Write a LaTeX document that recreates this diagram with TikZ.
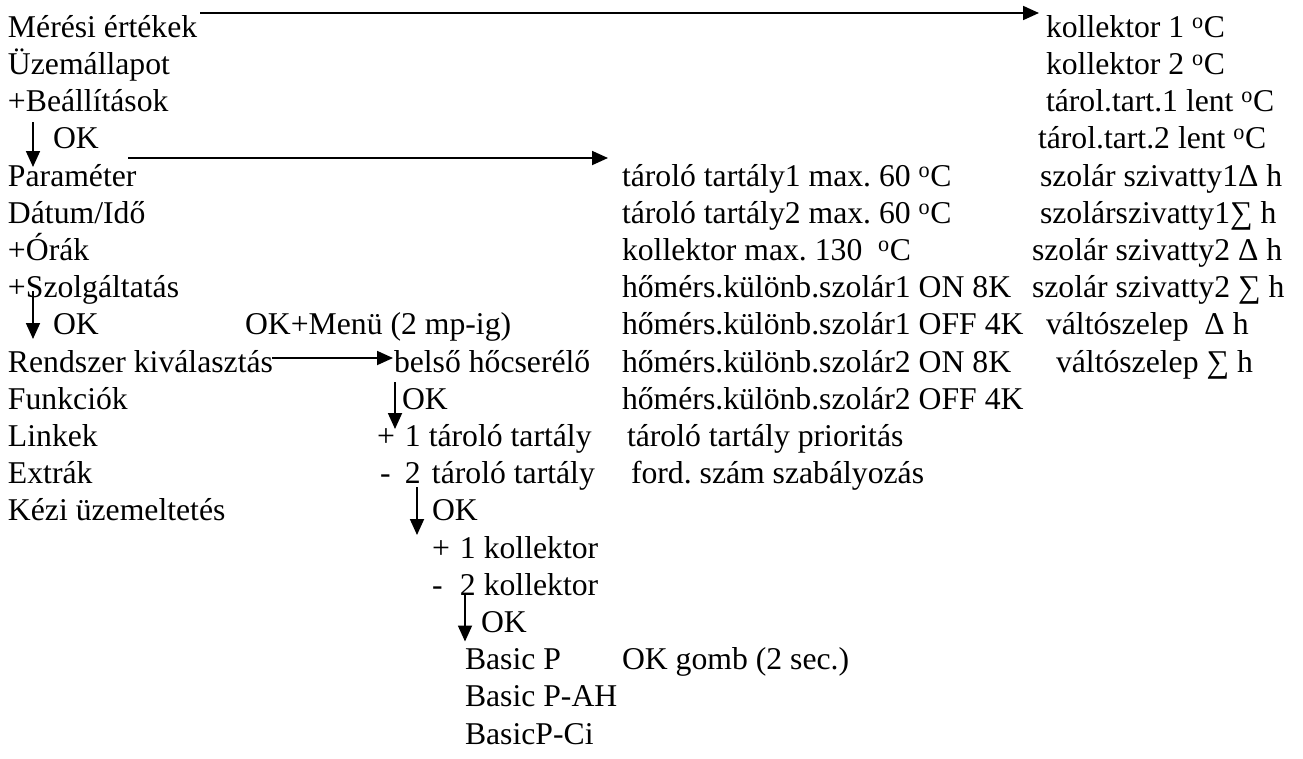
\documentclass[tikz,border=0pt]{standalone}
\usepackage{fontspec}
\setmainfont{Liberation Serif}
\usetikzlibrary{arrows.meta}
\newcommand\degsup{\textsuperscript{o}}

\begin{document}
\frenchspacing
\begin{tikzpicture}[x=1pt,y=-1pt,
  lbl/.style={anchor=base west, inner sep=0pt, outer sep=0pt,
              font=\fontsize{31.7}{37}\selectfont},
  flow/.style={line width=1.8pt, -{Triangle[length=16pt,width=14pt]}}]
\useasboundingbox (0,0) rectangle (1303,758);

% main menu
\node[lbl] (m1)  at (8,37.3)   {Mérési értékek};
\node[lbl] (m2)  at (8,74.5)   {Üzemállapot};
\node[lbl] (m3)  at (8,111.7)  {+Beállítások};
\node[lbl] (ok1) at (53,148.9) {OK};
\node[lbl] (m5)  at (8,186.1)  {Paraméter};
\node[lbl] (m6)  at (8,223.3)  {Dátum/Idő};
\node[lbl] (m7)  at (8,260.5)  {+Órák};
\node[lbl] (m8)  at (8,297.7)  {+Szolgáltatás};
\node[lbl] (ok2) at (53,334.9) {OK};
\node[lbl] (okm) at (245,334.9) {OK+Menü (2 mp-ig)};
\node[lbl] (m10) at (8,372.1)  {Rendszer kiválasztás};
\node[lbl] (m11) at (8,409.3)  {Funkciók};
\node[lbl] (m12) at (8,446.5)  {Linkek};
\node[lbl] (m13) at (8,483.7)  {Extrák};
\node[lbl] (m14) at (8,520.9)  {Kézi üzemeltetés};

% measured values
\node[lbl] (k1) at (1046,37.3)  {kollektor 1 \degsup C};
\node[lbl] (k2) at (1046,74.5)  {kollektor 2 \degsup C};
\node[lbl] (t1) at (1046,111.7) {tárol.tart.1 lent \degsup C};
\node[lbl] (t2) at (1038,148.9) {tárol.tart.2 lent \degsup C};

% parameters
\node[lbl] (p1) at (622,186.1) {tároló tartály1 max. 60 \degsup C};
\node[lbl] (p2) at (622,223.3) {tároló tartály2 max. 60 \degsup C};
\node[lbl] (p3) at (622,260.5) {kollektor max. 130\ \ \degsup C};
\node[lbl] (p4) at (622,297.7) {hőmérs.különb.szolár1 ON 8K};
\node[lbl] (p5) at (622,334.9) {hőmérs.különb.szolár1 OFF 4K};
\node[lbl] (p6) at (622,372.1) {hőmérs.különb.szolár2 ON 8K};
\node[lbl] (p7) at (622,409.3) {hőmérs.különb.szolár2 OFF 4K};
\node[lbl] (p8) at (627,446.5) {tároló tartály prioritás};
\node[lbl] (p9) at (631,483.7) {ford. szám szabályozás};

% operating hours
\node[lbl] (h1) at (1040,186.1) {szolár szivatty1Δ h};
\node[lbl] (h2) at (1040,223.3) {szolárszivatty1∑ h};
\node[lbl] (h3) at (1032,260.5) {szolár szivatty2 Δ h};
\node[lbl] (h4) at (1032,297.7) {szolár szivatty2 ∑ h};
\node[lbl] (h5) at (1046,334.9) {váltószelep\ \ Δ h};
\node[lbl] (h6) at (1056,372.1) {váltószelep ∑ h};

% system selection
\node[lbl] (b1)  at (394,372.1) {belső hőcserélő};
\node[lbl] (ok3) at (402,409.3) {OK};
\node[lbl] (s1)  at (377,446.5) {\makebox[28pt][l]{+}1 tároló tartály};
\node[lbl] (s2)  at (380,483.7) {\makebox[25pt][l]{-}\makebox[27pt][l]{2}tároló tartály};
\node[lbl] (ok4) at (432,520.9) {OK};
\node[lbl] (c1)  at (432,558.1) {\makebox[28pt][l]{+}1 kollektor};
\node[lbl] (c2)  at (432,595.3) {\makebox[28pt][l]{-}2 kollektor};
\node[lbl] (ok5) at (481,632.5) {OK};
\node[lbl] (bp1) at (465,669.7) {Basic P};
\node[lbl] (okg) at (622,669.7) {OK gomb (2 sec.)};
\node[lbl] (bp2) at (465,706.9) {Basic P-AH};
\node[lbl] (bp3) at (465,744.1) {BasicP-Ci};

% arrow end points
\coordinate (a1s) at (200,13);    \coordinate (a1e) at (1039,13);
\coordinate (a2s) at (128,158);   \coordinate (a2e) at (608,158);
\coordinate (a3s) at (33,122);    \coordinate (a3e) at (33,167);
\coordinate (a4s) at (33,291);    \coordinate (a4e) at (33,339);
\coordinate (a5s) at (272,358);   \coordinate (a5e) at (393,358);
\coordinate (a6s) at (395,382);   \coordinate (a6e) at (395,429);
\coordinate (a7s) at (417,487);   \coordinate (a7e) at (417,535);
\coordinate (a8s) at (465,595);   \coordinate (a8e) at (465,641.5);

\draw[flow] (a1s) -- (a1e);
\draw[flow] (a2s) -- (a2e);
\draw[flow] (a3s) -- (a3e);
\draw[flow] (a4s) -- (a4e);
\draw[flow] (a5s) -- (a5e);
\draw[flow] (a6s) -- (a6e);
\draw[flow] (a7s) -- (a7e);
\draw[flow] (a8s) -- (a8e);
\end{tikzpicture}
\end{document}
